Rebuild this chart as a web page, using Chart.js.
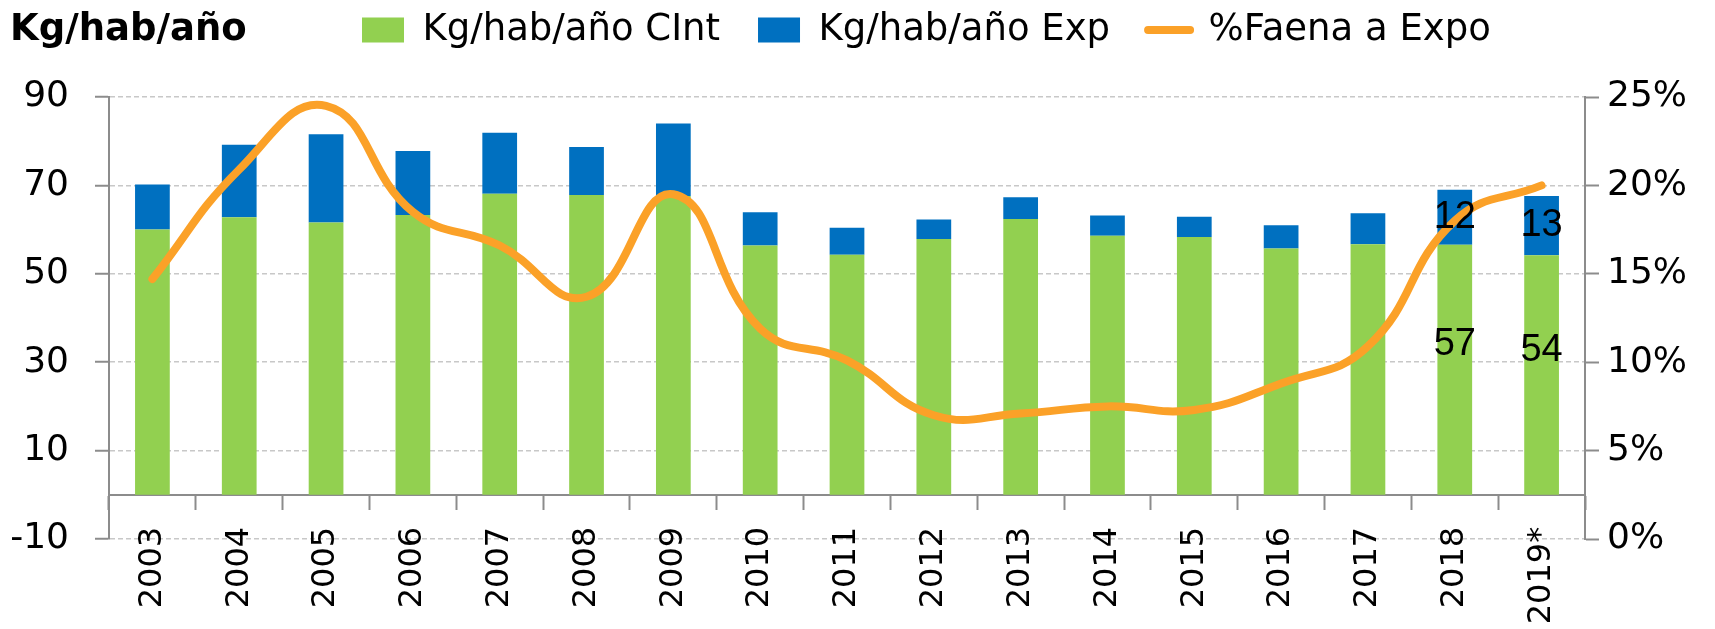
<!DOCTYPE html>
<html>
<head>
<meta charset="utf-8">
<script src="https://cdn.jsdelivr.net/npm/chart.js@4.4.1/dist/chart.umd.min.js"></script>
<style>
  body { margin: 0; background: #fff; }
  #wrap { position: relative; width: 1715px; height: 629px; }
</style>
</head>
<body>
<div id="wrap"><canvas id="myChart"></canvas></div>
<script>
// chart data
const years = ["2003", "2004", "2005", "2006", "2007", "2008", "2009", "2010", "2011",
  "2012", "2013", "2014", "2015", "2016", "2017", "2018", "2019*"];
const consumoInterno = [60.0, 62.8, 61.6, 63.3, 68.1, 67.8, 67.6, 56.4, 54.3,
  57.9, 62.4, 58.6, 58.3, 55.7, 56.7, 56.6, 54.2];
const exportacion = [10.2, 16.4, 20.0, 14.5, 13.8, 10.9, 16.4, 7.5, 6.1,
  4.4, 4.9, 4.6, 4.6, 5.3, 7.0, 12.4, 13.4];
const faenaExpo = [14.7, 20.9, 24.5, 18.5, 16.6, 13.7, 19.5, 11.9, 10.1,
  7.0, 7.1, 7.5, 7.3, 8.8, 10.9, 18.0, 20.0]; // percent
const leftTicks = [-10, 10, 30, 50, 70, 90];
const rightTicks = [0, 5, 10, 15, 20, 25];
const labelledYears = ["2018", "2019*"];

const FONT = "'DejaVu Sans', Verdana, sans-serif";
const LABEL_FONT = "'Liberation Sans', Arial, sans-serif";
const AXIS_GREY = "#8C8C8C";

Chart.defaults.color = "#000";
Chart.defaults.font.family = FONT;

// title in the top left corner, same row as the legend
const cornerTitle = {
  id: "cornerTitle",
  afterDraw(chart) {
    const ctx = chart.ctx;
    ctx.save();
    ctx.font = "bold 37px " + FONT;
    ctx.fillStyle = "#000";
    ctx.textBaseline = "alphabetic";
    ctx.fillText("Kg/hab/año", 10, 40);
    ctx.restore();
  }
};

// move the legend row so it starts where the original one does
const legendPlace = {
  id: "legendPlace",
  afterLayout(chart) {
    const pad = chart.legend.options.labels.padding;
    const half = chart.legend.options.labels.font.size / 2;
    chart.legend.left = 362 - pad;
    chart.legend.top = 30 - half - pad;
  }
};

// value labels on the last two bars
const barValues = {
  id: "barValues",
  afterDatasetsDraw(chart) {
    const ctx = chart.ctx;
    ctx.save();
    ctx.font = "38px " + LABEL_FONT;
    ctx.fillStyle = "#000";
    ctx.textAlign = "center";
    ctx.textBaseline = "middle";
    [0, 1].forEach(function (di) {
      const meta = chart.getDatasetMeta(di);
      meta.data.forEach(function (bar, i) {
        if (!labelledYears.includes(years[i])) return;
        const v = chart.data.datasets[di].data[i];
        const y = (bar.y + bar.base) / 2 + (di === 0 ? -25 : 0);
        ctx.fillText(Math.round(v), bar.x, y);
      });
    });
    ctx.restore();
  }
};

const ctx = document.getElementById("myChart").getContext("2d");
new Chart(ctx, {
  type: "bar",
  data: {
    labels: years,
    datasets: [
      {
        label: "Kg/hab/año CInt",
        data: consumoInterno,
        backgroundColor: "#92D050",
        categoryPercentage: 1,
        barPercentage: 0.4,
        yAxisID: "y"
      },
      {
        label: "Kg/hab/año Exp",
        data: exportacion,
        backgroundColor: "#0070C0",
        categoryPercentage: 1,
        barPercentage: 0.4,
        yAxisID: "y"
      },
      {
        type: "line",
        label: "%Faena a Expo",
        data: faenaExpo,
        borderColor: "#FBA128",
        backgroundColor: "#FBA128",
        borderWidth: 8,
        borderCapStyle: "round",
        tension: 0.45,
        pointRadius: 0,
        yAxisID: "y2",
        order: -1
      }
    ]
  },
  options: {
    responsive: true,
    maintainAspectRatio: false,
    animation: false,
    devicePixelRatio: 1,
    layout: { padding: { top: 12, bottom: 90, left: 0, right: 0 } },
    plugins: {
      tooltip: { enabled: false },
      legend: {
        position: "top",
        align: "start",
        labels: {
          usePointStyle: true,
          pointStyleWidth: 42,
          boxHeight: 25,
          padding: 38,
          color: "#000",
          font: { size: 37, family: FONT },
          sort: (a, b) => a.datasetIndex - b.datasetIndex,
          generateLabels: function (chart) {
            const items = Chart.defaults.plugins.legend.labels.generateLabels(chart);
            return items.map(function (item) {
              const ds = chart.data.datasets[item.datasetIndex];
              if (ds.type === "line") {
                return Object.assign(item, { pointStyle: "line", lineWidth: 8, lineCap: "round", strokeStyle: ds.borderColor });
              }
              return Object.assign(item, { pointStyle: "rect", lineWidth: 0, fillStyle: ds.backgroundColor });
            });
          }
        }
      }
    },
    scales: {
      x: {
        stacked: true,
        position: { y: 0 },
        offset: true,
        grid: { drawOnChartArea: false, offset: true, tickLength: 14, tickWidth: 2, tickColor: AXIS_GREY },
        border: { color: AXIS_GREY, width: 2 },
        ticks: {
          autoSkip: false,
          minRotation: 90,
          maxRotation: 90,
          padding: 18,
          color: "#000",
          font: { family: FONT, size: 32 }
        }
      },
      y: {
        stacked: true,
        position: "left",
        min: -10,
        max: 90,
        afterBuildTicks: function (s) { s.ticks = leftTicks.map(v => ({ value: v })); },
        afterFit: function (s) { s.width = 109; },
        grid: { color: "#C8C8C8", lineWidth: 1.5, tickLength: 14, tickWidth: 2, tickColor: AXIS_GREY },
        border: { color: AXIS_GREY, width: 2, dash: [5, 3] },
        ticks: { padding: 26, color: "#000", font: { size: 36 } }
      },
      y2: {
        position: "right",
        min: 0,
        max: 25,
        afterBuildTicks: function (s) { s.ticks = rightTicks.map(v => ({ value: v })); },
        afterFit: function (s) { s.width = 130; },
        grid: { drawOnChartArea: false, tickLength: 14, tickWidth: 2, tickColor: AXIS_GREY },
        border: { color: AXIS_GREY, width: 2 },
        ticks: { padding: 8, color: "#000", font: { size: 36 }, callback: v => v + "%" }
      }
    }
  },
  plugins: [cornerTitle, legendPlace, barValues]
});
</script>
</body>
</html>
